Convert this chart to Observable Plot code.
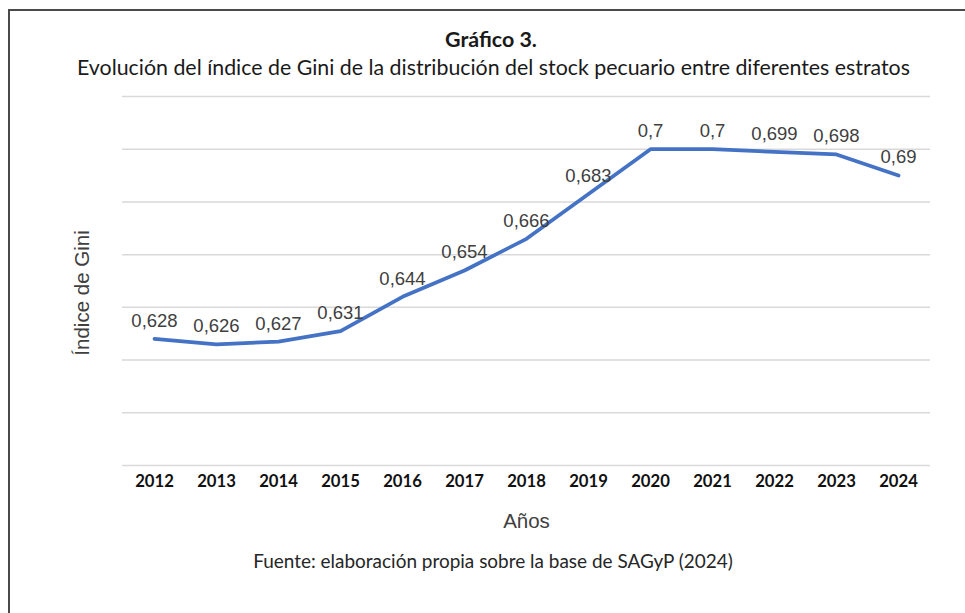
<!DOCTYPE html>
<html>
<head>
<meta charset="utf-8">
<script src="https://cdn.jsdelivr.net/npm/d3@7"></script>
<script src="https://cdn.jsdelivr.net/npm/@observablehq/plot@0.6"></script>
<style>
  body { margin: 0; background: #fff; }
  #wrap { position: relative; width: 965px; height: 613px; overflow: hidden; background: #fff; }
  #border { position: absolute; left: 8px; top: 9px; width: 1200px; height: 800px;
            border-left: 2px solid #4a4a4a; border-top: 2px solid #4a4a4a; }
  #chart { position: absolute; left: 0; top: 80px; }
  #overlay { position: absolute; left: 0; top: 0; }
</style>
</head>
<body>
<div id="wrap">
  <div id="border"></div>
  <div id="chart"></div>
  <svg id="overlay" width="965" height="613"></svg>
</div>
<script>
const years = ["2012","2013","2014","2015","2016","2017","2018","2019","2020","2021","2022","2023","2024"];
const gini = [0.628, 0.626, 0.627, 0.631, 0.644, 0.654, 0.666, 0.683, 0.700, 0.700, 0.699, 0.698, 0.690];
const valueLabels = ["0,628","0,626","0,627","0,631","0,644","0,654","0,666","0,683","0,7","0,7","0,699","0,698","0,69"];
const gridValues = [0.58, 0.60, 0.62, 0.64, 0.66, 0.68, 0.70, 0.72];

const titleText = "Gráfico 3.";
const subtitleText = "Evolución del índice de Gini de la distribución del stock pecuario entre diferentes estratos";
const captionText = "Fuente: elaboración propia sobre la base de SAGyP (2024)";
const xLabel = "Años";
const yLabel = "Índice de Gini";

const data = years.map((y, i) => ({year: y, value: gini[i], label: valueLabels[i]}));

const chart = Plot.plot({
  width: 965,
  height: 460,
  marginTop: 16,
  marginBottom: 75,
  marginLeft: 122,
  marginRight: 35,
  style: {fontFamily: "'Liberation Sans', Arial, sans-serif", background: "transparent", overflow: "visible"},
  x: {type: "point", domain: years, padding: 0.5},
  y: {domain: [0.58, 0.72], axis: null},
  marks: [
    Plot.ruleY(gridValues, {stroke: "#d9d9d9", strokeWidth: 1.5}),
    Plot.axisX({tickSize: 0, tickPadding: 9.5, fontWeight: "bold", fontSize: 16.7,
                fontFamily: "Lato", fill: "#111", label: null}),
    Plot.line(data, {x: "year", y: "value", stroke: "#4472C4", strokeWidth: 3.75}),
    Plot.text(data, {x: "year", y: "value", text: "label", dy: -18, fontSize: 18.5, fill: "#404040"}),
    Plot.text([xLabel], {frameAnchor: "bottom", lineAnchor: "middle", textAnchor: "middle",
                         dy: 56, fontSize: 20.5, fill: "#404040"}),
    Plot.text([yLabel], {frameAnchor: "left", lineAnchor: "middle", textAnchor: "middle",
                         dx: -40, dy: 12, rotate: -90, fontSize: 20.5, fill: "#404040"})
  ]
});
document.getElementById("chart").appendChild(chart);

const ns = "http://www.w3.org/2000/svg";
const overlay = document.getElementById("overlay");
function addText(str, x, y, size, weight, fill, targetWidth) {
  const t = document.createElementNS(ns, "text");
  t.setAttribute("x", x);
  t.setAttribute("y", y);
  t.setAttribute("text-anchor", "middle");
  t.setAttribute("font-family", "Lato, sans-serif");
  t.setAttribute("font-size", size);
  t.setAttribute("font-weight", weight);
  t.setAttribute("fill", fill);
  t.textContent = str;
  overlay.appendChild(t);
  const w = t.getComputedTextLength();
  if (w > 0) t.setAttribute("font-size", (size * targetWidth / w).toFixed(2));
}
addText(titleText, 491, 47, 20, "bold", "#1a1a1a", 92);
addText(subtitleText, 493.5, 75, 18, "normal", "#1a1a1a", 833);
addText(captionText, 493, 568, 17, "normal", "#262626", 480);
</script>
</body>
</html>
